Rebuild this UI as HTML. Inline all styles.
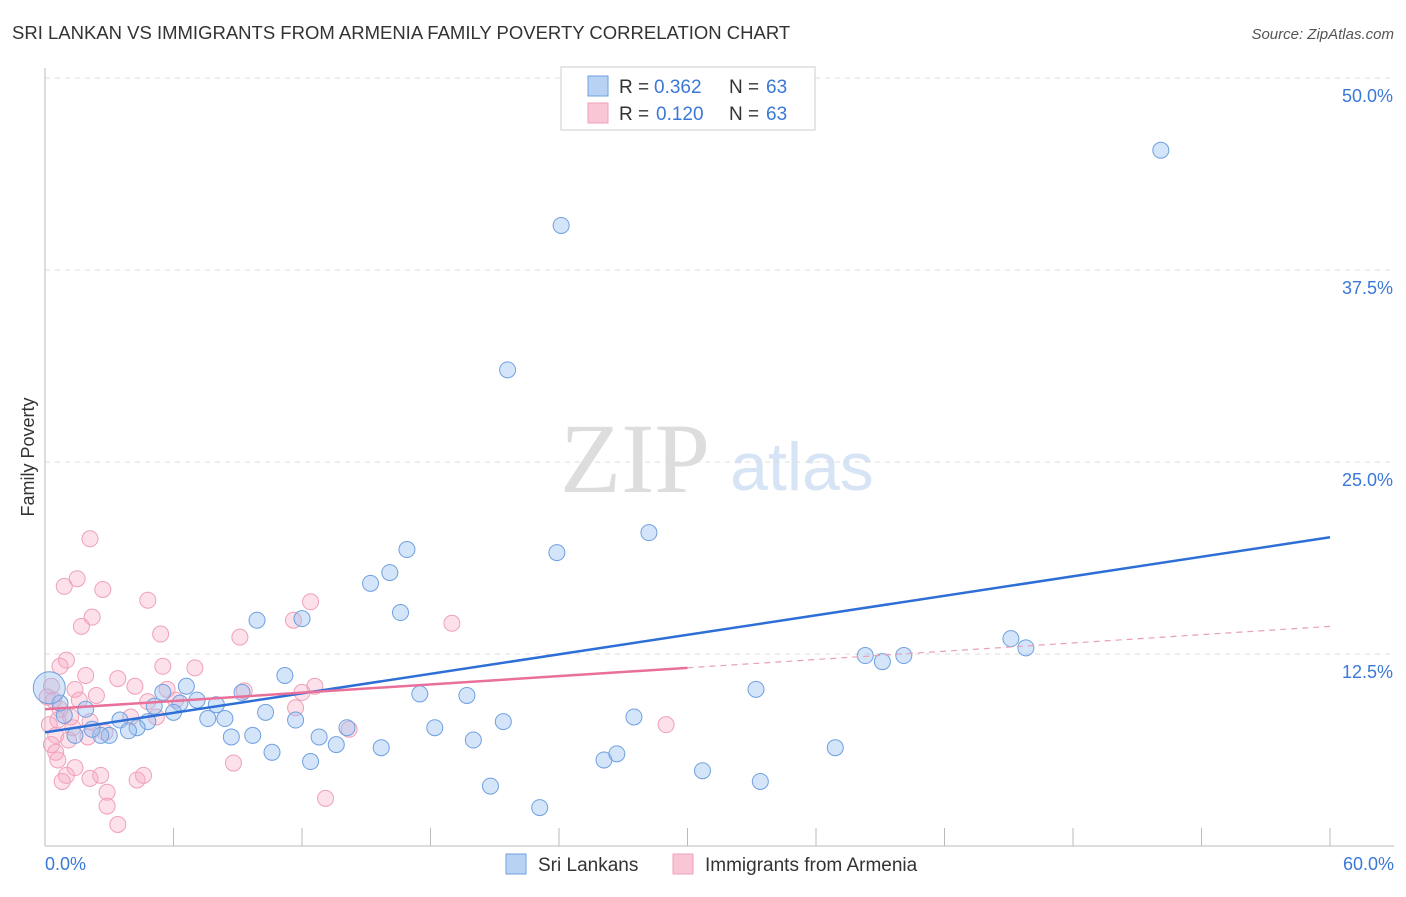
<!DOCTYPE html>
<html><head><meta charset="utf-8"><style>
body{margin:0;background:#fff;font-family:"Liberation Sans",sans-serif}
svg text{font-family:"Liberation Sans",sans-serif}
</style></head><body>
<svg id="chart" width="1406" height="892" xmlns="http://www.w3.org/2000/svg">
<text x="12" y="39" font-size="18.5" fill="#333">SRI LANKAN VS IMMIGRANTS FROM ARMENIA FAMILY POVERTY CORRELATION CHART</text>
<text x="1394" y="39" font-size="15" fill="#555" font-style="italic" text-anchor="end">Source: ZipAtlas.com</text>
<text x="34" y="457" font-size="18" fill="#333" text-anchor="middle" transform="rotate(-90 34 457)">Family Poverty</text>
<text x="635" y="492" font-size="100" fill="#ddd" text-anchor="middle" style="font-family:'Liberation Serif',serif">ZIP</text>
<text x="802" y="490" font-size="68" fill="#d6e4f5" text-anchor="middle">atlas</text>
<g id="grid"></g><g id="pts"></g><g id="lines"></g>
<g>
<rect x="561" y="67" width="254" height="63" fill="#fff" stroke="#ccc"/>
<rect x="588" y="76" width="20" height="20" fill="#b8d2f4" stroke="#6fa0e0"/>
<text x="619" y="93" font-size="19" fill="#333">R =</text>
<text x="654" y="93" font-size="19" fill="#3a78d8">0.362</text>
<text x="729" y="93" font-size="19" fill="#333">N =</text>
<text x="766" y="93" font-size="19" fill="#3a78d8">63</text>
<rect x="588" y="103" width="20" height="20" fill="#f8c6d4" stroke="#f0a0b8"/>
<text x="619" y="120" font-size="19" fill="#333">R =</text>
<text x="656" y="120" font-size="19" fill="#3a78d8">0.120</text>
<text x="729" y="120" font-size="19" fill="#333">N =</text>
<text x="766" y="120" font-size="19" fill="#3a78d8">63</text>
</g>
<g>
<rect x="506" y="854" width="20" height="20" fill="#b8d2f4" stroke="#6fa0e0"/>
<text x="538" y="871" font-size="19" fill="#333">Sri Lankans</text>
<rect x="673" y="854" width="20" height="20" fill="#f8c6d4" stroke="#f0a0b8"/>
<text x="705" y="871" font-size="19" fill="#333">Immigrants from Armenia</text>
</g>
<text x="45" y="870" font-size="18" fill="#3a78d8">0.0%</text>
<text x="1394" y="870" font-size="18" fill="#3a78d8" text-anchor="end">60.0%</text>
</svg>
<script>
const yTicks=[50,37.5,25,12.5];
const yTickLabels=["50.0%","37.5%","25.0%","12.5%"];
const xTicks=[0,6,12,18,24,30,36,42,48,54,60];
const blueX=[52.1,24.1,21.6,28.2,23.9,16.9,16.1,15.2,16.6,9.9,12.0,11.2,6.6,5.5,7.1,9.2,6.3,8.0,5.1,6.0,7.6,8.4,10.3,11.7,4.8,3.5,4.3,3.0,2.6,3.9,2.2,1.9,0.9,0.7,0.2,1.4,8.7,9.7,10.6,12.4,12.8,13.6,14.1,15.7,17.5,18.2,19.7,20.0,21.4,20.8,23.1,26.1,26.7,27.5,30.7,33.2,33.4,36.9,38.3,39.1,40.1,45.1,45.8];
const blueY=[45.3,40.4,31.0,20.4,19.1,19.3,17.8,17.1,15.2,14.7,14.8,11.1,10.4,10.0,9.5,10.0,9.3,9.2,9.1,8.7,8.3,8.3,8.7,8.2,8.1,8.2,7.7,7.2,7.2,7.5,7.6,8.9,8.5,9.3,10.3,7.2,7.1,7.2,6.1,5.5,7.1,6.6,7.7,6.4,9.9,7.7,9.8,6.9,8.1,3.9,2.5,5.6,6.0,8.4,4.9,10.2,4.2,6.4,12.4,12.0,12.4,13.5,12.9];
const pinkX=[2.1,1.5,0.9,2.7,4.8,2.2,1.7,12.4,11.6,5.4,9.1,19.0,1.0,0.7,1.9,7.0,5.5,3.4,4.2,12.6,12.0,9.3,5.7,1.4,0.3,2.4,4.8,6.1,11.7,5.2,4.0,2.1,1.2,0.6,0.2,1.3,2.8,2.0,1.1,0.5,0.3,0.5,0.6,1.4,1.0,0.8,2.1,2.6,4.3,4.6,2.9,2.9,3.4,13.1,8.8,14.2,29.0,0.4,0.7,1.6,0.1];
const pinkY=[20.0,17.4,16.9,16.7,16.0,14.9,14.3,15.9,14.7,13.8,13.6,14.5,12.1,11.7,11.1,11.6,11.7,10.9,10.4,10.4,10.0,10.1,10.2,10.2,10.4,9.8,9.4,9.5,9.0,8.4,8.4,8.1,8.4,8.2,7.9,7.7,7.4,7.1,6.9,7.2,6.6,6.1,5.6,5.1,4.6,4.2,4.4,4.6,4.3,4.6,3.5,2.6,1.4,3.1,5.4,7.6,7.9,9.5,8.9,9.5,9.7];
const blueTrend=[7.4,20.1];
const pinkTrend=[8.9,11.6,14.3];
const NS="http://www.w3.org/2000/svg";
const X=v=>45+v*(1330-45)/60, Y=v=>846-v*15.36;
function mk(t,a,p){const e=document.createElementNS(NS,t);for(const k in a)e.setAttribute(k,a[k]);p.appendChild(e);return e;}
const g=document.getElementById('grid');
yTicks.forEach((t,i)=>{
 const l=mk('line',{x1:45,x2:1394,y1:Y(t),y2:Y(t),stroke:'#ddd','stroke-dasharray':'5,5'},g);
 
 
 const tx=mk('text',{x:1393,y:Y(t)+24,'font-size':18,fill:'#3a78d8','text-anchor':'end'},g);
 tx.textContent=yTickLabels[i];
 
 
});
const ax=mk('line',{x1:45,x2:1394,y1:846,y2:846,stroke:'#bbb'},g);


const ay=mk('line',{x1:45,x2:45,y1:68,y2:846,stroke:'#bbb'},g);


xTicks.forEach(t=>{
 const l=mk('line',{x1:X(t),x2:X(t),y1:828,y2:846,stroke:'#bbb'},g);
 
 
});
const p=document.getElementById('pts');
pinkX.forEach((x,i)=>{
 const c=mk('circle',{cx:X(x),cy:Y(pinkY[i]),r:8,fill:'rgba(246,170,195,0.35)',stroke:'#f0a0b8','stroke-width':1},p);
 
 
});
blueX.forEach((x,i)=>{
 const c=mk('circle',{cx:X(x),cy:Y(blueY[i]),r:(i==34?16:8),fill:'rgba(150,190,240,0.4)',stroke:'#6fa0e0','stroke-width':1},p);
 
 
});
const L=document.getElementById('lines');
const b=mk('line',{x1:X(0),y1:Y(blueTrend[0]),x2:X(60),y2:Y(blueTrend[1]),stroke:'#2d6fd6','stroke-width':2.5},L);


const pk=mk('line',{x1:X(0),y1:Y(pinkTrend[0]),x2:X(30),y2:Y(pinkTrend[1]),stroke:'#e8709a','stroke-width':2.5},L);


const pd=mk('line',{x1:X(30),y1:Y(pinkTrend[1]),x2:X(60),y2:Y(pinkTrend[2]),stroke:'#e8a0b8','stroke-width':1.2,'stroke-dasharray':'6,5'},L);


</script>
</body></html>
